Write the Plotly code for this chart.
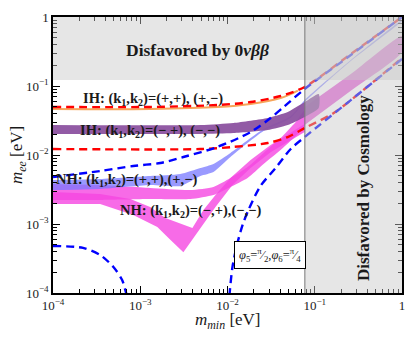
import plotly.graph_objects as go

# ---- values (m_min, m_ee in eV) ----
# IH bounds (red dashed)
IH_UP_M = [1e-4, 1.3e-3, 7.7e-3, 1.84e-2, 4.06e-2, 7.67e-2, 0.259, 1.0]
IH_UP_EE = [0.0497, 0.0497, 0.0531, 0.0586, 0.0716, 0.0968, 0.29, 1.0]
IH_LO_M = [1e-4, 4.9e-3, 1.17e-2, 2.89e-2, 4.90e-2, 7.67e-2, 0.165, 0.385, 1.0]
IH_LO_EE = [0.0122, 0.0122, 0.0131, 0.0149, 0.0182, 0.0246, 0.0406, 0.0935, 0.255]

# NH bounds (blue dashed)
NH_UP_M = [1e-4, 3.47e-4, 8.3e-4, 1.70e-3, 3.12e-3, 7.67e-3, 1.84e-2, 3.12e-2, 4.41e-2, 7.67e-2, 0.259, 1.0]
NH_UP_EE = [0.0048, 0.00586, 0.00693, 0.00766, 0.00935, 0.0131, 0.0215, 0.0344, 0.0497, 0.0905, 0.281, 1.0]
NH_LO_A_M = [1e-4, 2.21e-4, 3.47e-4, 4.9e-4, 6.2e-4, 6.9e-4, 7.1e-4]
NH_LO_A_EE = [4.8e-4, 4.5e-4, 3.55e-4, 2.4e-4, 1.54e-4, 1.0e-4, 9e-5]
NH_LO_B_M = [1.05e-2, 1.14e-2, 1.30e-2, 1.49e-2, 1.74e-2, 2.39e-2, 3.56e-2, 5.30e-2, 7.67e-2, 0.259, 1.0]
NH_LO_B_EE = [9e-5, 2.38e-4, 5.3e-4, 9.7e-4, 1.60e-3, 3.56e-3, 6.48e-3, 0.0122, 0.0182, 0.0625, 0.246]

# IH (k1,k2)=(+,+),(+,-): thin orange line
IH_PP_M = [1e-4, 1.3e-3, 7.67e-3, 1.84e-2, 4.06e-2, 6.4e-2]
IH_PP_EE = [0.0465, 0.0465, 0.0495, 0.0548, 0.067, 0.086]

# IH (k1,k2)=(-,+),(-,-): purple band
IH_MM_M = [1e-4, 4.9e-3, 1.17e-2, 2.89e-2, 4.90e-2, 7.67e-2, 0.111]
IH_MM_HI = [0.0272, 0.0272, 0.0291, 0.0344, 0.0420, 0.0586, 0.0766]
IH_MM_LO = [0.0202, 0.0202, 0.0208, 0.0230, 0.0272, 0.0356, 0.048]

# NH (k1,k2)=(+,+),(+,-): blue band
NH_PP_M = [1e-4, 3.47e-4, 1.30e-3, 2.88e-3, 4.90e-3, 6.9e-3, 1.08e-2, 2.59e-2, 5.30e-2, 7.67e-2, 0.259, 1.0]
NH_PP_HI = [4.34e-3, 4.49e-3, 4.96e-3, 5.30e-3, 6.48e-3, 7.41e-3, 0.0107, 0.0238, 0.0367, 0.0627, 0.238, 0.905]
NH_PP_LO = [3.11e-3, 3.22e-3, 3.67e-3, 3.56e-3, 4.96e-3, 5.67e-3, 9.35e-3, 0.0223, 0.0344, 0.0586, 0.230, 0.875]

# NH (k1,k2)=(-,+),(-,-): upper magenta branch
NH_MM1_M = [1e-4, 3.47e-4, 1.30e-3, 3.76e-3, 6.9e-3, 1.08e-2, 1.70e-2, 2.59e-2, 4.06e-2, 6.05e-2, 7.67e-2]
NH_MM1_HI = [3.80e-3, 3.67e-3, 3.33e-3, 3.11e-3, 3.44e-3, 4.64e-3, 6.70e-3, 0.0107, 0.0176, 0.0301, 0.0449]
NH_MM1_LO = [2.23e-3, 2.23e-3, 2.30e-3, 2.30e-3, 2.63e-3, 3.44e-3, 4.64e-3, 7.41e-3, 0.0118, 0.0188, 0.0263]

# NH (k1,k2)=(-,+),(-,-): V-shaped branch outline
NH_MM2_M = [1e-4, 3.47e-4, 7.7e-4, 1.30e-3, 1.94e-3, 3.96e-3, 5.30e-3, 7.28e-3, 1.08e-2, 1.84e-2,
            3.12e-2, 5.30e-2, 7.67e-2, 7.67e-2, 5.30e-2, 3.12e-2, 1.84e-2, 1.14e-2, 7.28e-3, 4.90e-3,
            3.12e-3, 2.21e-3, 1.57e-3, 8.3e-4, 3.47e-4, 1e-4]
NH_MM2_EE = [2.91e-3, 2.72e-3, 2.30e-3, 1.76e-3, 1.22e-3, 8.75e-4, 1.60e-3, 2.63e-3, 4.64e-3, 8.47e-3,
             0.0140, 0.0208, 0.0281, 0.0215, 0.0165, 0.0110, 6.48e-3, 3.67e-3, 1.76e-3, 8.75e-4,
             3.9e-4, 5.9e-4, 9.05e-4, 1.35e-3, 1.95e-3, 1.95e-3]

# quasi-degenerate continuation (all branches merged)
QD_M = [7.67e-2, 0.259, 1.0]
QD_HI = [0.0497, 0.149, 0.53]
QD_LO = [0.0272, 0.085, 0.31]

BB_LIMIT = 0.122     # 0vbb exclusion (m_ee above)
COSMO_LIMIT = 0.077  # cosmology exclusion (m_min above)

X_TICKS = [1e-4, 1e-3, 1e-2, 1e-1, 1]
X_TICKTEXT = ["10<sup>−4</sup>", "10<sup>−3</sup>", "10<sup>−2</sup>", "10<sup>−1</sup>", "1"]
Y_TICKS = [1e-4, 1e-3, 1e-2, 1e-1, 1]
Y_TICKTEXT = ["10<sup>−4</sup>", "10<sup>−3</sup>", "10<sup>−2</sup>", "10<sup>−1</sup>", "1"]

SERIF = "Liberation Serif, Times New Roman, serif"


def band(m, hi, lo, color, smooth=True):
    return go.Scatter(
        x=list(m) + list(m)[::-1], y=list(hi) + list(lo)[::-1],
        mode="lines", fill="toself", fillcolor=color,
        line={"width": 0, "shape": "spline" if smooth else "linear", "smoothing": 0.6},
        hoverinfo="skip", showlegend=False,
    )


def dashed(m, ee, color):
    return go.Scatter(
        x=m, y=ee, mode="lines",
        line={"color": color, "width": 2.4, "dash": "8px,5px", "shape": "spline", "smoothing": 0.8},
        hoverinfo="skip", showlegend=False,
    )


traces = [
    band(QD_M, QD_HI, QD_LO, "rgba(225,80,210,0.85)"),
    go.Scatter(x=NH_MM2_M, y=NH_MM2_EE, mode="lines", fill="toself",
               fillcolor="rgba(245,70,225,0.8)", line={"width": 0},
               hoverinfo="skip", showlegend=False),
    band(NH_MM1_M, NH_MM1_HI, NH_MM1_LO, "rgba(245,70,225,0.8)"),
    band(NH_PP_M, NH_PP_HI, NH_PP_LO, "rgba(120,120,255,0.75)"),
    band(IH_MM_M, IH_MM_HI, IH_MM_LO, "rgba(140,82,160,0.95)"),
    go.Scatter(x=IH_PP_M, y=IH_PP_EE, mode="lines",
               line={"color": "#f7a55a", "width": 2, "shape": "spline"},
               hoverinfo="skip", showlegend=False),
    dashed(IH_UP_M, IH_UP_EE, "#ff0000"),
    dashed(IH_LO_M, IH_LO_EE, "#ff0000"),
    dashed(NH_UP_M, NH_UP_EE, "#0000ff"),
    dashed(NH_LO_A_M, NH_LO_A_EE, "#0000ff"),
    dashed(NH_LO_B_M, NH_LO_B_EE, "#0000ff"),
]

fig = go.Figure(data=traces)

minor_vals = [k * d for d in X_TICKS[:-1] for k in range(2, 10)]
axis_common = dict(
    type="log", range=[-4, 0], showgrid=False, zeroline=False, automargin=False,
    showline=True, linecolor="black", linewidth=1.5, mirror="allticks",
    ticks="inside", ticklen=7, tickwidth=1, tickcolor="black",
    tickfont={"family": SERIF, "size": 13, "color": "#222"},
    minor={"ticks": "inside", "ticklen": 4, "tickwidth": 1, "tickcolor": "black",
           "tickvals": minor_vals, "showgrid": False},
)

fig.update_xaxes(**axis_common, tickvals=X_TICKS, ticktext=X_TICKTEXT)
fig.update_yaxes(**axis_common, tickvals=Y_TICKS, ticktext=Y_TICKTEXT)

# shaded exclusion regions drawn above the curves (fades them)
fig.add_shape(type="rect", xref="x", yref="y", x0=1e-4, x1=1, y0=BB_LIMIT, y1=1,
              fillcolor="rgb(200,200,200)", opacity=0.45, line={"width": 0}, layer="above")
fig.add_shape(type="rect", xref="x", yref="y", x0=COSMO_LIMIT, x1=1, y0=1e-4, y1=1,
              fillcolor="rgb(200,200,200)", opacity=0.45, line={"width": 0}, layer="above")
fig.add_shape(type="line", xref="x", yref="paper", x0=COSMO_LIMIT, x1=COSMO_LIMIT, y0=0, y1=1,
              line={"color": "#777", "width": 1}, layer="above")

lab = {"family": SERIF, "color": "#1a1a1a"}


def note(x, y, text, size, **kw):
    fig.add_annotation(xref="paper", yref="paper", x=x, y=y, text=text, showarrow=False,
                       xanchor="center", yanchor="middle", font={**lab, "size": size}, **kw)


# axis titles
note(0.50, -0.10, "<i>m</i><sub><i>min</i></sub> [eV]", 17)
note(-0.10, 0.50, "<i>m</i><sub><i>ee</i></sub> [eV]", 17, textangle=-90)

note(0.415, 0.880, "<b>Disfavored by 0<i>νββ</i></b>", 17.5)
note(0.888, 0.380, "<b>Disfavored by Cosmology</b>", 17, textangle=-90)
note(0.287, 0.703, "<b>IH: (k<sub>1</sub>,k<sub>2</sub>)=(+,+), (+,−)</b>", 14.5)
note(0.278, 0.587, "<b>IH: (k<sub>1</sub>,k<sub>2</sub>)=(−,+), (−,−)</b>", 14.5)
note(0.212, 0.409, "<b>NH: (k<sub>1</sub>,k<sub>2</sub>)=(+,+),(+,−)</b>", 14.5)
note(0.393, 0.297, "<b>NH: (k<sub>1</sub>,k<sub>2</sub>)=(−,+),(−,−)</b>", 14.5)
note(0.622, 0.138,
     "<i>φ</i><sub>5</sub>=<sup>π</sup>⁄<sub>2</sub>,<i>φ</i><sub>6</sub>=<sup>π</sup>⁄<sub>4</sub>", 12.5,
     bgcolor="white", bordercolor="black", borderwidth=1, borderpad=4)

fig.update_layout(
    width=407, height=338,
    margin={"l": 53, "r": 5, "t": 17, "b": 45},
    paper_bgcolor="white", plot_bgcolor="white",
    showlegend=False,
)

# drop the browser's default 8px body margin so the figure sits at the window origin
fig.write_html("out.html", config={"displayModeBar": False},
               post_script="document.body.style.margin='0';")
